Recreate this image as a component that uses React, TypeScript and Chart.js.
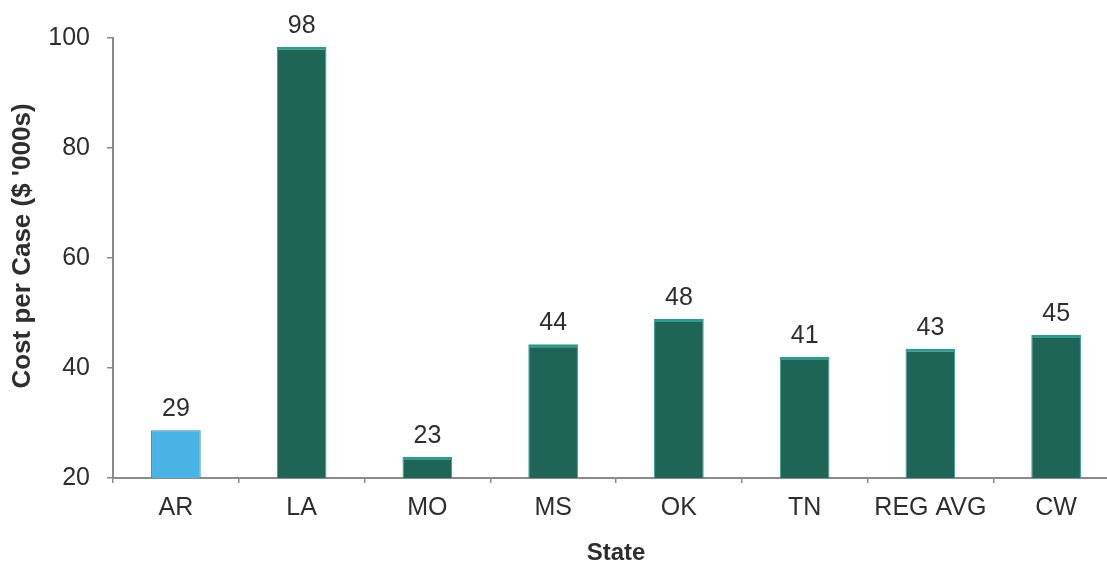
import React, { useEffect, useRef } from "react";
import { Chart, registerables } from "chart.js";

Chart.register(...registerables);

const categories = ["AR", "LA", "MO", "MS", "OK", "TN", "REG AVG", "CW"];
const costValues = [28.7, 98.4, 23.8, 44.3, 48.9, 42.0, 43.5, 46.0];
const valueLabels = ["29", "98", "23", "44", "48", "41", "43", "45"];
const yTicks = [20, 40, 60, 80, 100];
const yTitle = "Cost per Case ($ '000s)";
const xTitle = "State";

const FONT = "'Liberation Sans', Arial, Helvetica, sans-serif";

const CANVAS_W = 1130;
const CANVAS_H = 575;

const fillColors = categories.map((_, i) => (i === 0 ? "#48b4e6" : "#1e6555"));
const edgeColors = categories.map((_, i) => (i === 0 ? "#358bbb" : "#2c9c8e"));

const valueLabelPlugin = {
  id: "valueLabels",
  afterDatasetsDraw(chart: any) {
    const ctx = chart.ctx;
    const meta = chart.getDatasetMeta(0);
    ctx.save();
    ctx.font = `25px ${FONT}`;
    ctx.fillStyle = "#2e2e2e";
    ctx.textAlign = "center";
    ctx.textBaseline = "alphabetic";
    meta.data.forEach((bar: any, i: number) => {
      ctx.fillText(valueLabels[i], bar.x, bar.y - 14);
    });
    ctx.restore();
  },
};

const yTitlePlugin = {
  id: "yTitle",
  afterDraw(chart: any) {
    const ctx = chart.ctx;
    ctx.save();
    ctx.translate(23, 246);
    ctx.rotate(-Math.PI / 2);
    ctx.font = `bold 26px ${FONT}`;
    ctx.fillStyle = "#2e2e2e";
    ctx.textAlign = "center";
    ctx.textBaseline = "middle";
    ctx.fillText(yTitle, 0, 0);
    ctx.restore();
  },
};

export default function App() {
  const canvasRef = useRef<HTMLCanvasElement | null>(null);

  useEffect(() => {
    const canvas = canvasRef.current;
    if (!canvas) return;
    const chart = new Chart(canvas, {
      type: "bar",
      data: {
        labels: categories,
        datasets: [
          {
            data: costValues,
            backgroundColor: fillColors,
            borderColor: edgeColors,
            borderWidth: categories.map((_, i) =>
              i === 0 ? 1 : { top: 3, left: 1, right: 1, bottom: 0 }
            ) as any,
            borderSkipped: "bottom",
            categoryPercentage: 1,
            barPercentage: 0.395,
          },
        ],
      },
      options: {
        responsive: false,
        animation: false,
        devicePixelRatio: 1,
        layout: { padding: { top: 38, right: 11, bottom: 0, left: 0 } },
        plugins: {
          legend: { display: false },
          tooltip: { enabled: false },
          title: { display: false },
        },
        scales: {
          x: {
            type: "category",
            offset: true,
            afterFit: (scale: any) => {
              scale.height = CANVAS_H - 478;
            },
            grid: {
              offset: true,
              drawOnChartArea: false,
              drawTicks: true,
              tickLength: 5,
              color: "#8a8a8a",
              lineWidth: 1.5,
            },
            border: { display: true, color: "#8a8a8a", width: 2 },
            ticks: {
              color: "#2e2e2e",
              font: { family: FONT, size: 25 },
              padding: 10,
              maxRotation: 0,
              autoSkip: false,
            },
            title: {
              display: true,
              text: xTitle,
              color: "#2e2e2e",
              font: { family: FONT, size: 24, weight: "bold" },
              padding: { top: 0, bottom: 7 },
            },
          },
          y: {
            min: 20,
            max: 100,
            afterFit: (scale: any) => {
              scale.width = 113;
            },
            afterBuildTicks: (scale: any) => {
              scale.ticks = yTicks.map((v) => ({ value: v }));
            },
            grid: {
              drawOnChartArea: false,
              drawTicks: true,
              tickLength: 6,
              color: "#8a8a8a",
              lineWidth: 1.5,
            },
            border: { display: true, color: "#8a8a8a", width: 2 },
            ticks: {
              color: "#2e2e2e",
              font: { family: FONT, size: 25 },
              padding: 17,
            },
            title: { display: false },
          },
        },
      },
      plugins: [valueLabelPlugin, yTitlePlugin],
    });
    return () => chart.destroy();
  }, []);

  return (
    <div
      style={{
        position: "absolute",
        left: 0,
        top: 0,
        width: 1107,
        height: 563,
        overflow: "hidden",
        background: "#ffffff",
      }}
    >
      <canvas
        ref={canvasRef}
        width={CANVAS_W}
        height={CANVAS_H}
        style={{ width: CANVAS_W, height: CANVAS_H, display: "block" }}
      />
    </div>
  );
}
